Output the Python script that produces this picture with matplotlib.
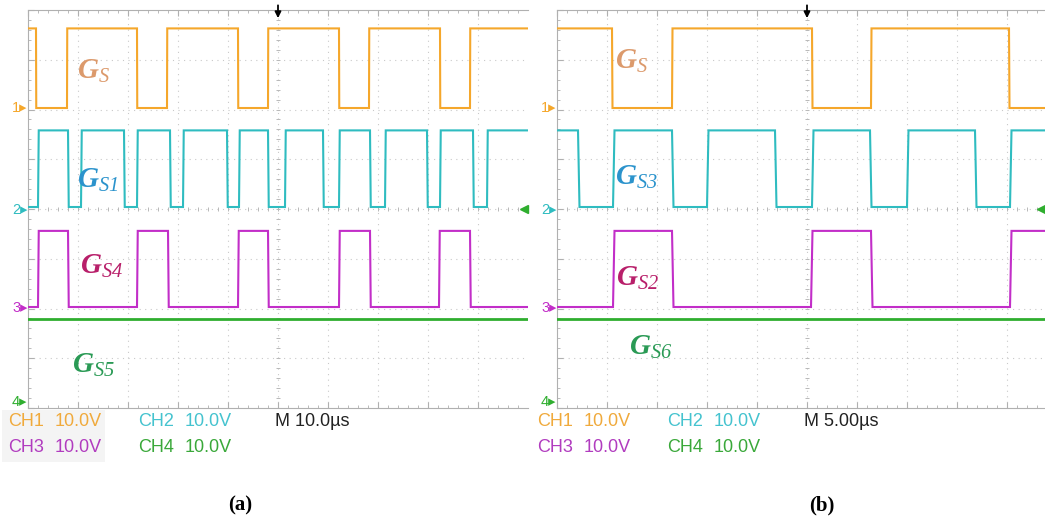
import numpy as np
import matplotlib
matplotlib.use("Agg")
import matplotlib.pyplot as plt
from matplotlib.patches import Rectangle

W, H = 1045, 525

# ---- captured gate signals (switching instants in microseconds) ----
# panel (a): 10 us/div
a_timebase = 10.0
a_span = 100.0
a_gs_edges = [1.6, 7.8, 21.8, 27.8, 42.0, 48.0, 62.2, 68.2, 82.4, 88.4]
a_gs1_edges = [2.0, 8.0, 10.6, 19.2, 21.8, 28.4, 31.0, 39.8, 42.2, 48.0,
               51.4, 59.0, 62.2, 68.4, 71.4, 79.8, 82.4, 89.0, 91.8]
a_gs4_edges = [2.0, 8.0, 21.8, 28.0, 42.0, 48.0, 62.2, 68.4, 82.2, 88.4]
a_start_high = [True, False, False, True]

# panel (b): 5 us/div, screen cut at ~48.8 us
b_timebase = 5.0
b_span = 48.8
b_gs_edges = [5.5, 11.5, 25.5, 31.4, 45.2]
b_gs3_edges = [2.1, 5.6, 11.5, 15.0, 21.8, 25.5, 31.3, 35.0, 41.8, 45.3]
b_gs2_edges = [5.6, 11.5, 25.4, 31.4, 45.3]
b_start_high = [True, True, False, True]

# levels in volts (10 V/div), ground offsets in divisions
high_v = [16.0, 16.0, 15.5, 16.7]
low_v = [0.0, 0.6, 0.2, 0.0]
offsets = [6.03, 3.98, 2.01, 0.12]

colors = ["#f5a72b", "#2fbcc0", "#c22ec8", "#2fae2f"]
label_colors = ["#dc9a6c", "#2b93cc", "#b81f6a", "#2a9a55"]
text_colors = ["#f0aa3c", "#45c3cf", "#b13cbf", "#3aa83a"]


def square(edges, start_high, span, hi, lo, rise):
    state = start_high
    t, v = [0.0], [hi if state else lo]
    for e in edges:
        t.append(e)
        v.append(hi if state else lo)
        state = not state
        t.append(e + rise)
        v.append(hi if state else lo)
    t.append(span)
    v.append(hi if state else lo)
    return np.array(t), np.array(v)


def px(x, y):
    return x / W, 1 - y / H


plt.rcParams["mathtext.fontset"] = "custom"
plt.rcParams["mathtext.it"] = "Liberation Serif:italic:bold"
plt.rcParams["mathtext.rm"] = "Liberation Serif:italic"

fig = plt.figure(figsize=(W / 100, H / 100), dpi=100)
fig.patch.set_facecolor("white")

# light panel behind the first readout column
fig.patches.append(Rectangle(px(2, 462), 103 / W, 52 / H, transform=fig.transFigure,
                             facecolor="#f4f4f4", edgecolor="none", zorder=0))

panels = [
    dict(left=28, right=528, tb=a_timebase, span=a_span,
         edges=[a_gs_edges, a_gs1_edges, a_gs4_edges, None], start=a_start_high),
    dict(left=557, right=1045, tb=b_timebase, span=b_span,
         edges=[b_gs_edges, b_gs3_edges, b_gs2_edges, None], start=b_start_high),
]

top_px, bot_px = 10, 408
for p in panels:
    x0, y0 = px(p["left"], bot_px)
    ax = fig.add_axes([x0, y0, (p["right"] - p["left"]) / W, (bot_px - top_px) / H])
    ndiv = (p["right"] - p["left"]) / 50.0
    ax.set_xlim(0, ndiv)
    ax.set_ylim(0, 8)

    # graticule
    for k in range(1, 10):
        if k < ndiv:
            ax.axvline(k, color="#c9c9c9", lw=0.8, ls=(0, (1, 4)), zorder=1)
    for k in range(1, 8):
        ax.axhline(k, color="#c9c9c9", lw=0.8, ls=(0, (1, 4)), zorder=1)
    ticks = np.arange(0, ndiv, 0.2)
    ax.plot(ticks, np.full_like(ticks, 4.0), ls="none", marker="|", ms=3,
            color="#b8b8b8", mew=0.7, zorder=1)
    vt = np.arange(0, 8, 0.2)
    ax.plot(np.full_like(vt, 5.0), vt, ls="none", marker="_", ms=3,
            color="#b8b8b8", mew=0.7, zorder=1)
    ax.set_xticks(np.arange(0, ndiv, 1))
    ax.set_xticks(ticks, minor=True)
    ax.set_yticks(np.arange(0, 9, 1))
    ax.set_yticks(vt, minor=True)
    ax.tick_params(which="both", direction="in", colors="#b0b0b0",
                   labelbottom=False, labelleft=False,
                   top=True, right=False)
    ax.tick_params(which="major", length=4)
    ax.tick_params(which="minor", length=2)
    for s in ax.spines.values():
        s.set_color("#b0b0b0")
        s.set_linewidth(0.8)
    ax.spines["right"].set_visible(False)

    # traces
    for ch in range(4):
        rise = 0.15 if ch in (1, 2) else 0.05
        if p["edges"][ch] is None:
            t = np.array([0.0, p["span"]])
            v = np.array([high_v[ch], high_v[ch]])
        else:
            t, v = square(p["edges"][ch], p["start"][ch], p["span"],
                          high_v[ch], low_v[ch], rise)
        lw = 2.0 if ch == 3 else 1.5
        ax.plot(t / p["tb"], offsets[ch] + v / 10.0, color=colors[ch],
                lw=lw, zorder=3, solid_joinstyle="miter")

    # trigger position and level markers
    ax.annotate("", xy=(5, 7.78), xytext=(5, 8.15), annotation_clip=False,
                arrowprops=dict(arrowstyle="-|>", color="black", lw=1.3,
                                mutation_scale=9))
    ax.plot([ndiv - 0.08], [4.0], marker="<", ms=6, color="#2fae2f",
            clip_on=False, zorder=4)

    # ground markers
    for ch in range(4):
        ax.text(-0.01, offsets[ch], f"{ch + 1}\u25b8", transform=ax.transData,
                ha="right", va="center", fontsize=10.5, color=colors[ch],
                family=["Liberation Sans", "DejaVu Sans"], clip_on=False)

# signal names
labels = [
    (r"$G_{\mathrm{S}}$", 77, 71, 0),
    (r"$G_{\mathrm{S1}}$", 77, 180, 1),
    (r"$G_{\mathrm{S4}}$", 80, 266, 2),
    (r"$G_{\mathrm{S5}}$", 72, 365, 3),
    (r"$G_{\mathrm{S}}$", 615, 61, 0),
    (r"$G_{\mathrm{S3}}$", 615, 177, 1),
    (r"$G_{\mathrm{S2}}$", 616, 278, 2),
    (r"$G_{\mathrm{S6}}$", 629, 347, 3),
]
for s, x, y, c in labels:
    fig.text(*px(x, y), s, fontsize=21, color=label_colors[c],
             ha="left", va="center")

# scope readouts
readout_font = ["Liberation Sans Narrow", "Liberation Sans", "DejaVu Sans"]
for base, tb_text in [(0, "M 10.0\u00b5s"), (529, "M 5.00\u00b5s")]:
    rows = [(421, [("CH1", 0), ("10.0V", 0), ("CH2", 1), ("10.0V", 1)]),
            (448, [("CH3", 2), ("10.0V", 2), ("CH4", 3), ("10.0V", 3)])]
    xs = [8, 55, 138, 185]
    for y, items in rows:
        for (s, c), x in zip(items, xs):
            fig.text(*px(base + x, y), s, fontsize=13, color=text_colors[c],
                     ha="left", va="center", family=readout_font)
    fig.text(*px(base + 275, 421), tb_text, fontsize=13, color="#222222",
             ha="left", va="center", family=readout_font)

fig.text(*px(240, 505), "(a)", fontsize=15, fontweight="bold",
         family="Liberation Serif", ha="center", va="center")
fig.text(*px(822, 505), "(b)", fontsize=15, fontweight="bold",
         family="Liberation Serif", ha="center", va="center")

fig.savefig("out.png", dpi=100, facecolor="white")
